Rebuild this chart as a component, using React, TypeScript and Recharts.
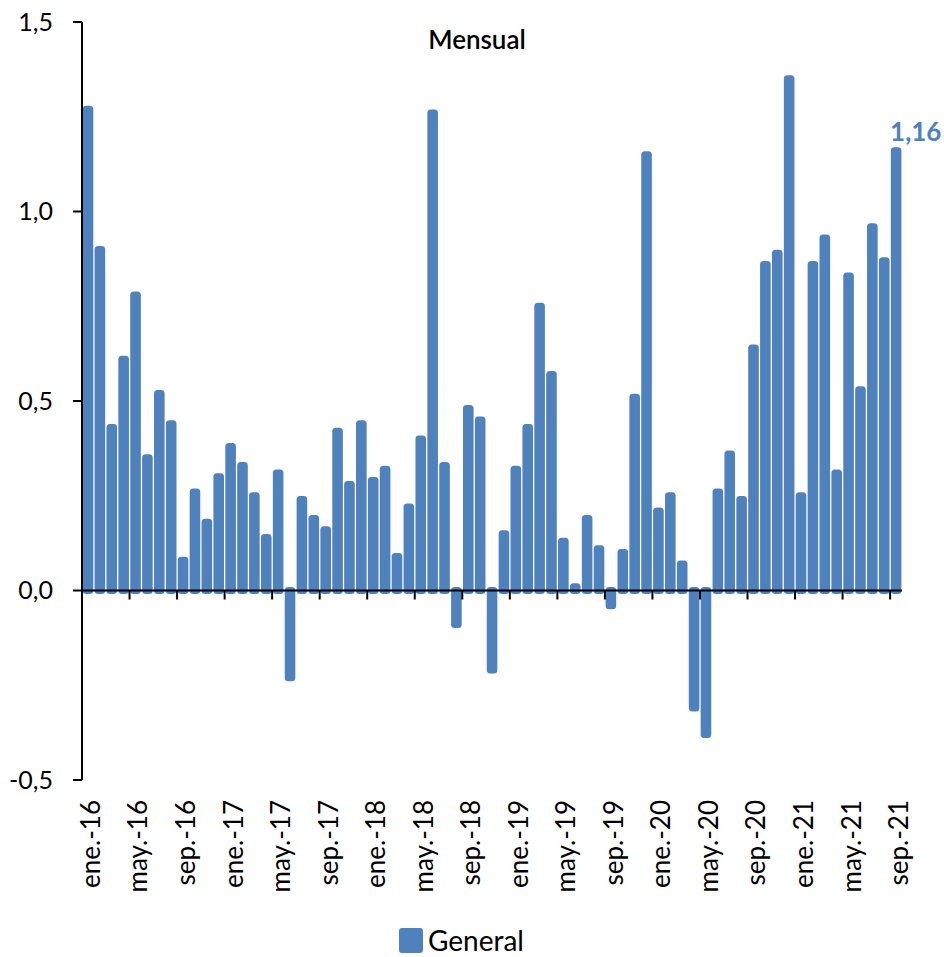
import React from "react";
import { BarChart, Bar, XAxis, YAxis, ReferenceLine, Legend, LabelList } from "recharts";

const MONTH_ABBR = ["ene.", "feb.", "mar.", "abr.", "may.", "jun.", "jul.", "ago.", "sep.", "oct.", "nov.", "dic."];
const YEARS = ["16", "17", "18", "19", "20", "21"];
const LAST_MONTH_COUNT_2021 = 9;

const GENERAL = [
  1.27, 0.9, 0.43, 0.61, 0.78, 0.35, 0.52, 0.44, 0.08, 0.26, 0.18, 0.3,
  0.38, 0.33, 0.25, 0.14, 0.31, -0.23, 0.24, 0.19, 0.16, 0.42, 0.28, 0.44,
  0.29, 0.32, 0.09, 0.22, 0.4, 1.26, 0.33, -0.09, 0.48, 0.45, -0.21, 0.15,
  0.32, 0.43, 0.75, 0.57, 0.13, 0.01, 0.19, 0.11, -0.04, 0.1, 0.51, 1.15,
  0.21, 0.25, 0.07, -0.31, -0.38, 0.26, 0.36, 0.24, 0.64, 0.86, 0.89, 1.35,
  0.25, 0.86, 0.93, 0.31, 0.83, 0.53, 0.96, 0.87, 1.16,
];

const Y_TICKS = [-0.5, 0, 0.5, 1, 1.5];

const CATEGORIES: string[] = [];
YEARS.forEach((yr, yi) => {
  const n = yi === YEARS.length - 1 ? LAST_MONTH_COUNT_2021 : 12;
  for (let m = 0; m < n; m++) CATEGORIES.push(`${MONTH_ABBR[m]}-${yr}`);
});

const data = CATEGORIES.map((month, i) => ({ month, General: GENERAL[i] }));

const BLUE = "#4F81BD";
const FONT = "Lato, 'Open Sans', sans-serif";
const TICK_EVERY = 4;

const fmt = (v: number) => v.toFixed(1).replace(".", ",");

const BarShape = (props: any) => {
  const { x, y, width, height, fill } = props;
  const top = Math.min(y, y + height);
  const h = Math.abs(height);
  const inset = 4.2;
  return (
    <rect
      x={x + inset}
      y={top}
      width={Math.max(width - 2 * inset, 0.5)}
      height={Math.max(h, 0.01)}
      fill={fill}
      stroke={fill}
      strokeWidth={7}
      strokeLinejoin="round"
    />
  );
};

const XTick = (props: any) => {
  const { x, y, payload } = props;
  return (
    <text
      x={0}
      y={0}
      transform={`translate(${x + 12},${y + 12}) rotate(-90)`}
      textAnchor="end"
      fontFamily={FONT}
      fontSize={26}
      fill="#000"
    >
      {payload.value}
    </text>
  );
};

const ZeroAxis = (props: any) => {
  const { x1, y1, x2 } = props;
  const band = (x2 - x1) / CATEGORIES.length;
  const ticks: number[] = [];
  for (let i = 0; i < CATEGORIES.length; i += TICK_EVERY) ticks.push(x1 + i * band);
  return (
    <g>
      <line x1={x1} y1={y1} x2={x2} y2={y1} stroke="#000" strokeWidth={2} />
      {ticks.map((tx, k) => (
        <line key={k} x1={tx} y1={y1} x2={tx} y2={y1 + 9} stroke="#000" strokeWidth={2} />
      ))}
    </g>
  );
};

const LastLabel = (props: any) => {
  const { x, y, index, value } = props;
  if (index !== GENERAL.length - 1) return null;
  return (
    <text x={x} y={y - 10} textAnchor="start" fontFamily={FONT} fontWeight={700} fontSize={26} fill={BLUE}>
      {String(value).replace(".", ",")}
    </text>
  );
};

const LegendContent = () => (
  <div style={{ display: "flex", alignItems: "center", height: 26 }}>
    <div style={{ width: 24, height: 25, background: BLUE, borderRadius: 3 }} />
    <span style={{ fontFamily: FONT, fontSize: 28, marginLeft: 5, color: "#000", lineHeight: "26px" }}>General</span>
  </div>
);

export default function App() {
  return (
    <div style={{ position: "absolute", left: 0, top: 0, width: 944, height: 957, background: "#fff" }}>
      <BarChart
        width={944}
        height={957}
        data={data}
        margin={{ top: 22, right: 42, bottom: 0, left: 0 }}
        barCategoryGap={0}
      >
        <XAxis
          dataKey="month"
          interval={TICK_EVERY - 1}
          axisLine={false}
          tickLine={false}
          height={177}
          tick={<XTick />}
        />
        <YAxis
          domain={[-0.5, 1.5]}
          ticks={Y_TICKS}
          width={82}
          interval={0}
          axisLine={{ stroke: "#000", strokeWidth: 2 }}
          tickLine={{ stroke: "#000", strokeWidth: 2 }}
          tickSize={9}
          tickMargin={20}
          tickFormatter={fmt}
          tick={{ fontFamily: FONT, fontSize: 25, fill: "#000" }}
        />
        <Bar dataKey="General" fill={BLUE} shape={<BarShape />} isAnimationActive={false}>
          <LabelList dataKey="General" content={<LastLabel />} />
        </Bar>
        <ReferenceLine y={0} shape={<ZeroAxis />} ifOverflow="extendDomain" />
        <Legend
          layout="vertical"
          align="center"
          verticalAlign="middle"
          wrapperStyle={{ left: 399, top: 927, width: 160 }}
          content={<LegendContent />}
        />
      </BarChart>
      <div
        style={{
          position: "absolute",
          left: 377,
          top: 26,
          width: 200,
          textAlign: "center",
          fontFamily: FONT,
          fontSize: 26,
          fontWeight: 600,
          lineHeight: "26px",
          color: "#000",
        }}
      >
        Mensual
      </div>
    </div>
  );
}
